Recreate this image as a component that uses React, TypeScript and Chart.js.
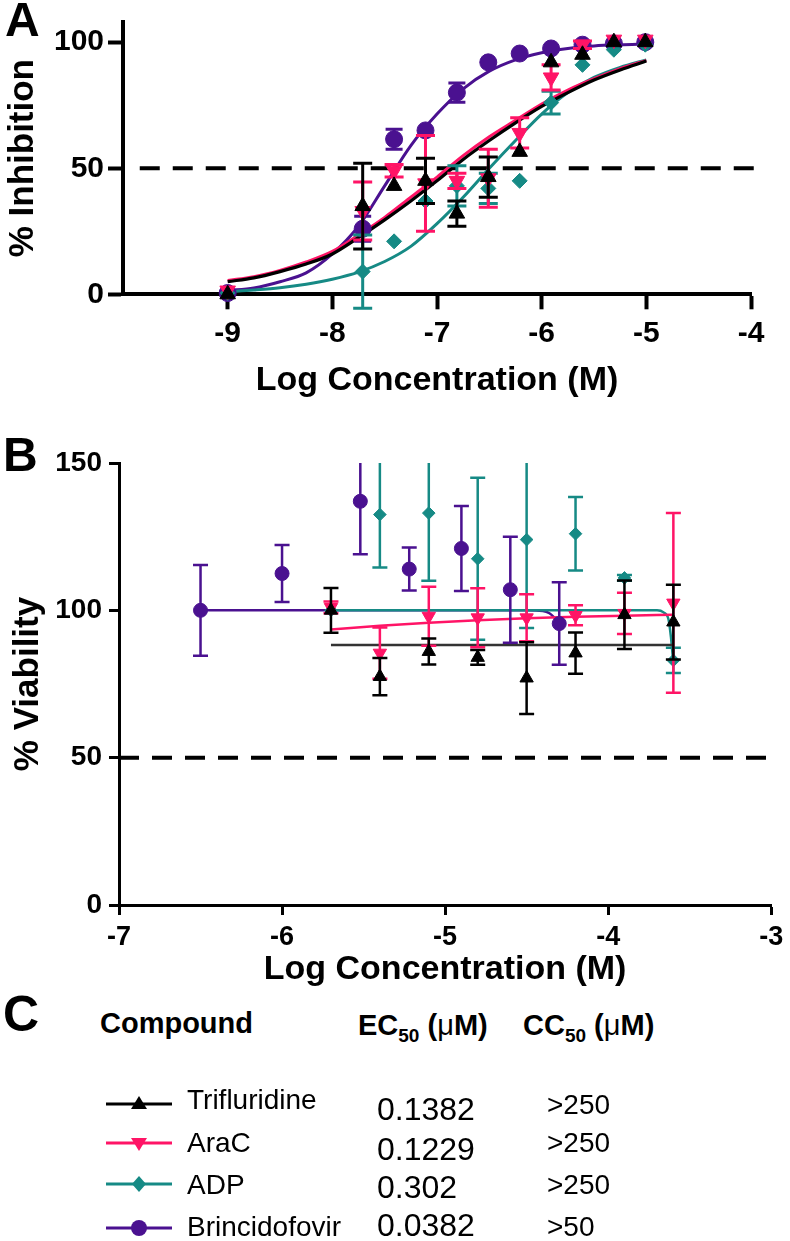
import React, { useEffect, useRef } from 'react';
import { Chart, registerables } from 'chart.js';

Chart.register(...registerables);

const FONT = '"Liberation Sans", Arial, Helvetica, sans-serif';

// ---------------- Colours ----------------
const BLACK = '#000000';
const PINK = '#FF1466';
const TEAL = '#168A85';
const PURPLE = '#4A1190';

// ---------------- Panel A (% Inhibition) ----------------
const concA = [-9, -7.71, -7.41, -7.11, -6.81, -6.51, -6.21, -5.91, -5.61, -5.31, -5.01];
const trifluridineA = [0, 35, 43, 45, 32, 46.5, 56.5, 92, 95, 100, 100];
const trifluridineErrA = [0, 17, 0, 9, 5, 8, 0, 0, 0, 0, 0];
const aracA = [1.5, 33, 49, 44, 45, 46, 64, 86, 99, 101, 101];
const aracErrA = [0, 11.5, 2.5, 19, 3, 11.5, 6, 5, 1.5, 0, 0];
const adpA = [0.5, 9, 21, 37, 43, 42, 45, 76, 91, 97, 99];
const adpErrA = [0, 14.5, 0, 0, 8, 6, 0, 4.5, 0, 0, 0];
const brincidofovirA = [0.5, 26, 61.5, 65, 80, 92, 95.5, 97.5, 99, 99.5, 100];
const brincidofovirErrA = [0, 5, 4, 0, 3.8, 0, 0, 0, 0, 0, 0];

// fitted curves
const fitXA = [-9, -8.75, -8.5, -8.25, -8, -7.75, -7.5, -7.25, -7, -6.75, -6.5, -6.25, -6, -5.75, -5.5, -5.25, -5];
const trifluridineFitA = [5, 6.5, 9, 12, 16, 22.5, 29.5, 37, 45, 53.5, 61, 68, 74.5, 80, 85, 89, 92.5];
const aracFitA = [5.5, 7, 9.5, 12.8, 17, 23.5, 30.5, 38.5, 46.5, 55, 62.5, 69, 75.5, 81, 85.5, 89.5, 92.8];
const adpFitA = [1, 1.7, 2.6, 4, 6, 8.8, 13, 19, 28, 38.5, 50, 61, 71.5, 80, 86, 90, 93];
const brincidofovirFitA = [1.5, 2.5, 5, 8.5, 16, 27, 43, 59, 71.5, 81.5, 88.5, 93, 95.8, 97.5, 98.5, 99, 99.3];

const xTicksA = [-9, -8, -7, -6, -5, -4];
const xTickLabelsA = ['-9', '-8', '-7', '-6', '-5', '-4'];
const yTicksA = [0, 50, 100];
const yTickLabelsA = ['0', '50', '100'];
const thresholdA = 50;
const thresholdSpanA = [-9.84, -3.93];

// ---------------- Panel B (% Viability) ----------------
const concB = [-5.7, -5.4, -5.1, -4.8, -4.5, -4.2, -3.9, -3.6];
const trifluridineB = [100, 77.5, 86, 84, 77, 85.5, 98.5, 96];
const trifluridineErrB = [7.6, 6.3, 4.4, 2.5, 12.2, 7, 11.6, 12.7];
const aracB = [101, 85.5, 98, 97.5, 97.5, 98.3, 99, 102.5];
const aracErrB = [2, 8.7, 10, 10, 8, 3.4, 7, 30.5];
const adpB = [100, 132.5, 133, 117.5, 124, 126, 111, 83];
const adpErrB = [0, 18, 23, 27.5, 30, 12.5, 1, 4.3];
const concBrincidofovirB = [-6.5, -6.0, -5.52, -5.22, -4.9, -4.6, -4.3];
const brincidofovirB = [100, 112.5, 137, 114, 121, 107, 95.5];
const brincidofovirErrB = [15.4, 9.7, 18, 7.3, 14.4, 18, 14];

const trifluridineFitXB = [-5.7, -3.6];
const trifluridineFitB = [88.2, 88.2];
const aracFitXB = [-5.7, -5.4, -5.1, -4.8, -4.5, -4.2, -3.9, -3.6];
const aracFitB = [93.5, 94.8, 95.8, 96.6, 97.3, 97.8, 98.2, 98.5];
const adpFitXB = [-5.7, -5.0, -4.5, -4.0, -3.7, -3.66, -3.63, -3.615, -3.6];
const adpFitB = [100, 100, 100, 100, 100, 99.3, 97, 91, 82];
const brincidofovirFitXB = [-6.5, -6.0, -5.5, -5.0, -4.5, -4.4, -4.36, -4.33, -4.3];
const brincidofovirFitB = [100, 100, 100, 100, 100, 99.8, 99, 97.5, 95.5];

const xTicksB = [-7, -6, -5, -4, -3];
const xTickLabelsB = ['-7', '-6', '-5', '-4', '-3'];
const yTicksB = [0, 50, 100, 150];
const yTickLabelsB = ['0', '50', '100', '150'];
const thresholdB = 50;
const thresholdSpanB = [-7, -2.97];

// ---------------- Panel C table ----------------
const compounds = ['Trifluridine', 'AraC', 'ADP', 'Brincidofovir'];
const compoundColors = [BLACK, PINK, TEAL, PURPLE];
const ec50 = ['0.1382', '0.1229', '0.302', '0.0382'];
const cc50 = ['>250', '>250', '>250', '>50'];

// ---------------- helpers ----------------
const pts = (xs: number[], ys: number[]) => xs.map((x, i) => ({ x, y: ys[i] }));

const errorBarPlugin = {
  id: 'errorBars',
  beforeDatasetDraw(chart: any, args: any) {
    const ds = chart.data.datasets[args.index];
    if (!ds.errors) return;
    const yScale = chart.scales.y;
    const ctx = chart.ctx;
    ctx.save();
    ctx.strokeStyle = ds.borderColor;
    ctx.lineWidth = ds.errorLineWidth;
    ctx.lineCap = 'butt';
    args.meta.data.forEach((pt: any, i: number) => {
      const e = ds.errors[i];
      if (!e) return;
      const v = ds.data[i].y;
      const hi = v + e;
      const lo = v - e;
      const clipped = hi > yScale.max;
      const yTop = yScale.getPixelForValue(clipped ? yScale.max : hi);
      const yBot = yScale.getPixelForValue(lo);
      const hw = ds.capWidth / 2;
      ctx.beginPath();
      ctx.moveTo(pt.x, yTop);
      ctx.lineTo(pt.x, yBot);
      if (!clipped) {
        ctx.moveTo(pt.x - hw, yTop);
        ctx.lineTo(pt.x + hw, yTop);
      }
      ctx.moveTo(pt.x - hw, yBot);
      ctx.lineTo(pt.x + hw, yBot);
      ctx.stroke();
    });
    ctx.restore();
  },
};

function curveDs(xs: number[], ys: number[], color: string, width: number, order: number) {
  return {
    data: pts(xs, ys),
    showLine: true,
    borderColor: color,
    backgroundColor: color,
    borderWidth: width,
    pointRadius: 0,
    pointHoverRadius: 0,
    cubicInterpolationMode: 'monotone',
    clip: false,
    order,
  };
}

function pointDs(
  xs: number[], ys: number[], errs: number[], color: string, style: string, rotation: number,
  radius: number, order: number, errW: number, capW: number,
) {
  return {
    data: pts(xs, ys),
    showLine: false,
    pointStyle: style,
    pointRotation: rotation,
    pointRadius: radius,
    pointHoverRadius: radius,
    pointBackgroundColor: color,
    pointBorderColor: color,
    pointBorderWidth: 1,
    borderColor: color,
    backgroundColor: color,
    errors: errs,
    errorLineWidth: errW,
    capWidth: capW,
    clip: false,
    order,
  };
}

function dashDs(span: number[], level: number) {
  return {
    data: pts(span, [level, level]),
    showLine: true,
    borderColor: BLACK,
    borderWidth: 4,
    borderDash: [20, 13],
    borderCapStyle: 'butt',
    pointRadius: 0,
    pointHoverRadius: 0,
    clip: false,
    order: 20,
  };
}

function axis(opts: {
  min: number; max: number; ticks: number[]; labels: string[]; size: number; pad: number;
  tickLen: number; lw: number; fitSize: number; horizontal: boolean; title: string;
  titleSize: number; titlePad: any;
}) {
  return {
    type: 'linear',
    min: opts.min,
    max: opts.max,
    afterBuildTicks: (ax: any) => {
      ax.ticks = opts.ticks.map((v) => ({ value: v }));
    },
    afterFit: (ax: any) => {
      if (opts.horizontal) ax.height = opts.fitSize;
      else ax.width = opts.fitSize;
    },
    ticks: {
      callback: (v: number) => opts.labels[opts.ticks.indexOf(v)] ?? '',
      font: { family: FONT, size: opts.size, weight: 'bold' },
      color: BLACK,
      padding: opts.pad,
      maxRotation: 0,
      minRotation: 0,
      autoSkip: false,
    },
    grid: {
      display: true,
      drawOnChartArea: false,
      drawTicks: true,
      tickLength: opts.tickLen,
      tickWidth: opts.lw,
      tickColor: BLACK,
    },
    border: { display: true, width: opts.lw, color: BLACK },
    title: {
      display: true,
      text: opts.title,
      color: BLACK,
      font: { family: FONT, size: opts.titleSize, weight: 'bold', lineHeight: 1 },
      padding: opts.titlePad,
    },
  };
}

function configA(): any {
  return {
    type: 'scatter',
    data: {
      datasets: [
        pointDs(concA, trifluridineA, trifluridineErrA, BLACK, 'triangle', 0, 9, 0, 3, 19),
        pointDs(concA, aracA, aracErrA, PINK, 'triangle', 180, 9, 1, 3, 19),
        pointDs(concA, adpA, adpErrA, TEAL, 'rectRot', 0, 7.5, 2, 3, 19),
        pointDs(concA, brincidofovirA, brincidofovirErrA, PURPLE, 'circle', 0, 8.5, 3, 3, 17),
        curveDs(fitXA, trifluridineFitA, BLACK, 3.2, 4),
        curveDs(fitXA, aracFitA, PINK, 3, 5),
        curveDs(fitXA, adpFitA, TEAL, 3, 6),
        curveDs(fitXA, brincidofovirFitA, PURPLE, 3, 7),
        dashDs(thresholdSpanA, thresholdA),
      ],
    },
    plugins: [errorBarPlugin],
    options: {
      responsive: false,
      animation: false,
      devicePixelRatio: 1,
      events: [],
      layout: { padding: { top: 21.7, right: 39, bottom: 0, left: 0 } },
      plugins: { legend: { display: false }, tooltip: { enabled: false } },
      scales: {
        x: axis({
          min: -10, max: -4, ticks: xTicksA, labels: xTickLabelsA, size: 30, pad: 6.7, tickLen: 15, lw: 4,
          fitSize: 125.7, horizontal: true, title: 'Log Concentration (M)', titleSize: 34,
          titlePad: { top: 0, bottom: 22.4 },
        }),
        y: axis({
          min: 0, max: 108, ticks: yTicksA, labels: yTickLabelsA, size: 30, pad: 4, tickLen: 15, lw: 4,
          fitSize: 123, horizontal: false, title: '% Inhibition', titleSize: 35,
          titlePad: { top: 5.5, bottom: 0 },
        }),
      },
    },
  };
}

function configB(): any {
  return {
    type: 'scatter',
    data: {
      datasets: [
        pointDs(concB, trifluridineB, trifluridineErrB, BLACK, 'triangle', 0, 7.7, 0, 2.5, 15),
        pointDs(concB, aracB, aracErrB, PINK, 'triangle', 180, 7.7, 1, 2.5, 15),
        pointDs(concB, adpB, adpErrB, TEAL, 'rectRot', 0, 6.3, 2, 2.5, 15),
        pointDs(concBrincidofovirB, brincidofovirB, brincidofovirErrB, PURPLE, 'circle', 0, 7, 3, 2.5, 15),
        curveDs(trifluridineFitXB, trifluridineFitB, '#333333', 2.5, 4),
        curveDs(aracFitXB, aracFitB, PINK, 2.5, 5),
        curveDs(adpFitXB, adpFitB, TEAL, 2.5, 6),
        curveDs(brincidofovirFitXB, brincidofovirFitB, PURPLE, 2.5, 7),
        dashDs(thresholdSpanB, thresholdB),
      ],
    },
    plugins: [errorBarPlugin],
    options: {
      responsive: false,
      animation: false,
      devicePixelRatio: 1,
      events: [],
      layout: { padding: { top: 43, right: 15, bottom: 0, left: 0 } },
      plugins: { legend: { display: false }, tooltip: { enabled: false } },
      scales: {
        x: axis({
          min: -7, max: -3, ticks: xTicksB, labels: xTickLabelsB, size: 27, pad: 6.8, tickLen: 10, lw: 3,
          fitSize: 95, horizontal: true, title: 'Log Concentration (M)', titleSize: 34,
          titlePad: { top: 0, bottom: 13.4 },
        }),
        y: axis({
          min: 0, max: 150, ticks: yTicksB, labels: yTickLabelsB, size: 28, pad: 7, tickLen: 10, lw: 3,
          fitSize: 119, horizontal: false, title: '% Viability', titleSize: 35,
          titlePad: { top: 10.5, bottom: 0 },
        }),
      },
    },
  };
}

function Txt(props: { left: number; top: number; size: number; bold?: boolean; children: any }) {
  return (
    <div
      style={{
        position: 'absolute',
        left: props.left,
        top: props.top,
        fontSize: props.size,
        lineHeight: 1,
        fontWeight: props.bold ? 'bold' : 'normal',
        whiteSpace: 'nowrap',
      }}
    >
      {props.children}
    </div>
  );
}

const rowNameTop = [1086.3, 1129.3, 1171.3, 1213.3];
const rowEcTop = [1093, 1133, 1171, 1209];
const rowCcTop = [1091.3, 1129.3, 1171.3, 1213.3];
const legendY = [1104, 1143, 1184, 1228];

function Marker({ i, y }: { i: number; y: number }) {
  const c = compoundColors[i];
  const cx = 139;
  if (i === 0) return <polygon points={`${cx},${y - 8} ${cx - 8},${y + 5} ${cx + 8},${y + 5}`} fill={c} />;
  if (i === 1) return <polygon points={`${cx},${y + 8} ${cx - 8},${y - 5} ${cx + 8},${y - 5}`} fill={c} />;
  if (i === 2) return <polygon points={`${cx},${y - 8} ${cx + 7},${y} ${cx},${y + 8} ${cx - 7},${y}`} fill={c} />;
  return <circle cx={cx} cy={y} r={8} fill={c} />;
}

export default function App() {
  const refA = useRef<HTMLCanvasElement>(null);
  const refB = useRef<HTMLCanvasElement>(null);

  useEffect(() => {
    const a = new Chart(refA.current as HTMLCanvasElement, configA());
    const b = new Chart(refB.current as HTMLCanvasElement, configB());
    return () => {
      a.destroy();
      b.destroy();
    };
  }, []);

  return (
    <div
      style={{
        position: 'absolute',
        left: 0,
        top: 0,
        width: 790,
        height: 1241,
        background: '#ffffff',
        color: '#000000',
        fontFamily: FONT,
        overflow: 'hidden',
      }}
    >
      <canvas
        ref={refA}
        width={790}
        height={420}
        style={{ position: 'absolute', left: 0, top: 0, width: 790, height: 420 }}
      />
      <canvas
        ref={refB}
        width={790}
        height={580}
        style={{ position: 'absolute', left: 0, top: 420, width: 790, height: 580 }}
      />

      <Txt left={5} top={-4.2} size={48} bold>A</Txt>
      <Txt left={3} top={430.8} size={48} bold>B</Txt>
      <Txt left={3} top={988.5} size={50} bold>C</Txt>

      <Txt left={100} top={1008.5} size={29} bold>Compound</Txt>
      <Txt left={358} top={1010.5} size={29} bold>
        EC<span style={{ fontSize: 19, position: 'relative', top: 7 }}>50</span> (<span style={{ fontWeight: 'normal' }}>μ</span>M)
      </Txt>
      <Txt left={523} top={1010.5} size={29} bold>
        CC<span style={{ fontSize: 19, position: 'relative', top: 7 }}>50</span> (<span style={{ fontWeight: 'normal' }}>μ</span>M)
      </Txt>

      <svg
        width={790}
        height={1241}
        style={{ position: 'absolute', left: 0, top: 0, pointerEvents: 'none' }}
      >
        {compounds.map((_, i) => (
          <g key={i}>
            <line x1={106} x2={172} y1={legendY[i]} y2={legendY[i]} stroke={compoundColors[i]} strokeWidth={3} />
            <Marker i={i} y={legendY[i]} />
          </g>
        ))}
      </svg>

      {compounds.map((name, i) => (
        <Txt key={'n' + i} left={187} top={rowNameTop[i]} size={28}>{name}</Txt>
      ))}
      {ec50.map((v, i) => (
        <Txt key={'e' + i} left={377} top={rowEcTop[i]} size={32}>{v}</Txt>
      ))}
      {cc50.map((v, i) => (
        <Txt key={'c' + i} left={547} top={rowCcTop[i]} size={28}>{v}</Txt>
      ))}
    </div>
  );
}
